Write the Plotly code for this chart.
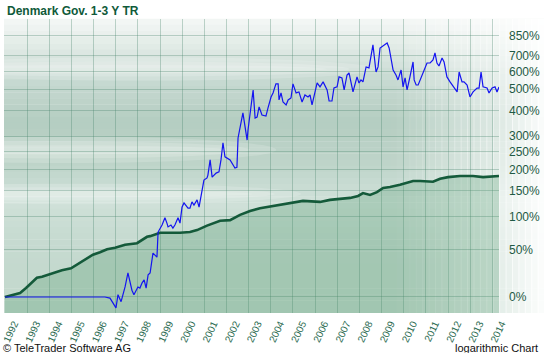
import plotly.graph_objects as go

title_text = "Denmark Gov. 1-3 Y TR"

blue_years = [1992.00, 1996.20, 1996.51, 1996.74, 1996.88, 1997.01, 1997.10, 1997.24, 1997.42, 1997.55,
              1997.73, 1997.82, 1998.00, 1998.09, 1998.19, 1998.28, 1998.37, 1998.46, 1998.55, 1998.68,
              1998.86, 1998.91, 1999.09, 1999.22, 1999.31, 1999.36, 1999.49, 1999.58, 1999.67, 1999.81,
              1999.90, 1999.99, 2000.08, 2000.26, 2000.35, 2000.44, 2000.53, 2000.67, 2000.76, 2000.89,
              2000.98, 2001.12, 2001.16, 2001.26, 2001.35, 2001.53, 2001.66, 2001.75, 2001.84, 2001.93,
              2002.16, 2002.38, 2002.47, 2002.52, 2002.74, 2002.93, 2002.97, 2003.20, 2003.29, 2003.38,
              2003.47, 2003.60, 2003.78, 2003.87, 2004.01, 2004.10, 2004.23, 2004.33, 2004.37, 2004.46,
              2004.55, 2004.69, 2004.78, 2004.91, 2005.00, 2005.14, 2005.27, 2005.41, 2005.54, 2005.68,
              2005.77, 2005.86, 2006.00, 2006.09, 2006.22, 2006.36, 2006.54, 2006.63, 2006.76, 2006.85,
              2006.99, 2007.08, 2007.21, 2007.31, 2007.44, 2007.53, 2007.71, 2007.89, 2007.98, 2008.07,
              2008.16, 2008.30, 2008.43, 2008.61, 2008.75, 2008.84, 2008.93, 2009.16, 2009.25, 2009.34,
              2009.52, 2009.65, 2009.74, 2009.88, 2009.97, 2010.06, 2010.15, 2010.28, 2010.42, 2010.47,
              2010.56, 2010.65, 2010.78, 2010.87, 2011.01, 2011.05, 2011.19, 2011.32, 2011.41, 2011.50,
              2011.59, 2011.73, 2011.82, 2011.95, 2012.09, 2012.23, 2012.41, 2012.50, 2012.63, 2012.72,
              2012.86, 2012.99, 2013.13, 2013.31, 2013.40, 2013.49, 2013.58, 2013.76, 2013.85, 2013.99,
              2014.12, 2014.21, 2014.30]
blue_pct = [0, 0, 0, -1, -5, -9, 2, -4, 9, 23,
            6, 2, 9, 8, 13, 16, 8, 21, 23, 46,
            41, 75, 86, 98, 89, 83, 86, 81, 86, 98,
            89, 117, 125, 115, 115, 127, 121, 131, 117, 145,
            174, 179, 186, 226, 181, 191, 194, 226, 278, 235,
            226, 204, 206, 294, 389, 287, 322, 496, 368, 372,
            415, 380, 376, 410, 461, 481, 528, 528, 447, 481,
            437, 424, 447, 456, 528, 481, 486, 437, 471, 461,
            471, 424, 496, 533, 512, 539, 496, 442, 442, 506,
            512, 567, 561, 496, 578, 590, 486, 567, 533, 550,
            539, 627, 621, 779, 596, 627, 756, 786, 794, 756,
            608, 578, 550, 608, 512, 561, 496, 567, 659, 550,
            522, 522, 561, 590, 627, 652, 652, 672, 720, 652,
            633, 685, 659, 567, 539, 512, 486, 596, 539, 539,
            522, 461, 486, 506, 506, 596, 512, 506, 481, 506,
            512, 486, 512]

bench_years = [1992.00, 1992.45, 1992.68, 1992.95, 1993.22, 1993.44, 1993.67, 1993.94, 1994.26, 1994.57,
               1994.98, 1995.39, 1995.75, 1995.97, 1996.29, 1996.61, 1996.97, 1997.42, 1997.96, 1998.41,
               1998.55, 1999.00, 1999.90, 2000.35, 2000.67, 2001.12, 2001.71, 2002.16, 2002.61, 2003.06,
               2003.51, 2004.10, 2004.87, 2005.45, 2006.22, 2006.67, 2007.12, 2007.58, 2007.94, 2008.16,
               2008.48, 2008.79, 2009.07, 2009.38, 2009.83, 2010.06, 2010.42, 2010.74, 2011.05, 2011.32,
               2011.64, 2012.00, 2012.54, 2013.13, 2013.58, 2014.03, 2014.30]
bench_pct = [0, 2, 3.5, 8, 13, 18, 19, 21, 24, 26,
             28, 34, 40, 44, 47, 51, 53, 57, 59, 68,
             69, 74, 74, 75, 78, 85, 93, 94, 103, 110,
             115, 119, 125, 129, 127, 131, 133, 135, 139, 145,
             141, 147, 156, 158, 163, 167, 172, 172, 170, 170,
             177, 181, 184, 184, 181, 184, 184]

tick_pct = [0, 50, 100, 150, 200, 250, 300, 400, 500, 600, 700, 850]
tick_labels = [f"{p}%" for p in tick_pct]
year_ticks = list(range(1992, 2015))
year_labels = [str(y) for y in year_ticks]

assert len(blue_years) == len(blue_pct)
assert len(bench_years) == len(bench_pct)


def to_ratio(pcts):
    return [1 + p / 100.0 for p in pcts]


def hex2rgb(h):
    h = h.lstrip('#')
    return tuple(int(h[i:i + 2], 16) for i in (0, 2, 4))


def interp_color(stops, t):
    for (t0, c0), (t1, c1) in zip(stops[:-1], stops[1:]):
        if t0 <= t <= t1:
            f = (t - t0) / (t1 - t0) if t1 > t0 else 0
            a, b = hex2rgb(c0), hex2rgb(c1)
            return "rgb(%d,%d,%d)" % tuple(round(a[i] + (b[i] - a[i]) * f) for i in range(3))
    return stops[-1][1]


fig = go.Figure()

fig.add_trace(go.Scatter(
    x=bench_years, y=to_ratio(bench_pct), mode="lines",
    line=dict(color="#145a3a", width=2.6),
    fill="tozeroy", fillcolor="rgba(70,145,100,0.26)",
    hoverinfo="skip", showlegend=False))
fig.add_trace(go.Scatter(
    x=blue_years, y=to_ratio(blue_pct), mode="lines",
    line=dict(color="#1414f0", width=1.2),
    hoverinfo="skip", showlegend=False))

# background decoration
shapes = []
stops = [(0.0, "#f4f7f6"), (0.07, "#e6eeea"), (0.2, "#c9dbd3"), (0.35, "#b4cdc1"),
         (0.5, "#bfd5ca"), (0.62, "#d0e1d9"), (0.75, "#c6dad0"), (1.0, "#c2d8cc")]
n = 48
xr = 1.091
for i in range(n):
    t0, t1 = i / n, (i + 1) / n
    shapes.append(dict(type="rect", xref="paper", yref="paper", x0=0, x1=xr,
                       y0=1 - t1, y1=1 - t0 + 0.001, line=dict(width=0),
                       fillcolor=interp_color(stops, (t0 + t1) / 2), layer="below"))
# soft white streaks (layered ellipses)
streaks = [(-0.3, 0.55, 0.555, 0.045), (-0.3, 0.6, 0.405, 0.035), (-0.2, 0.75, 0.83, 0.04)]
for (xa, xb, yc, hh) in streaks:
    for k, sc in enumerate([1.0, 0.65, 0.35]):
        shapes.append(dict(type="circle", xref="paper", yref="paper",
                           x0=xa, x1=xb - (1 - sc) * 0.15, y0=yc - hh * sc, y1=yc + hh * sc,
                           line=dict(width=0), fillcolor="white", opacity=0.16, layer="below"))
# right side fade to white
m = 24
xs0 = 0.78
for i in range(m):
    a = xs0 + (xr - xs0) * i / m
    b = xs0 + (xr - xs0) * (i + 1) / m
    mid = (a + b) / 2
    if mid <= 1.0:
        op = 0.55 * (mid - xs0) / (1.0 - xs0)
    else:
        op = 0.55 + 0.4 * (mid - 1.0) / (xr - 1.0)
    shapes.append(dict(type="rect", xref="paper", yref="paper", x0=a, x1=b + 0.002, y0=0, y1=1,
                       line=dict(width=0), fillcolor="white", opacity=op, layer="below"))

grid_col = "rgba(70,130,105,0.33)"

fig.update_layout(
    width=544, height=353,
    margin=dict(l=4, r=45, t=19, b=40, pad=0),
    paper_bgcolor="white", plot_bgcolor="rgba(0,0,0,0)",
    font=dict(family="Liberation Sans, Arial, sans-serif"),
    shapes=shapes,
    xaxis=dict(range=[1991.955, 2014.3], tickmode="array", tickvals=year_ticks, ticktext=year_labels,
               tickangle=-65, tickfont=dict(size=10, color="#2a6a50"), showgrid=True,
               gridcolor=grid_col, gridwidth=1, zeroline=False, showline=False, ticks="",
               ticklabelstandoff=2, ticklabelshift=9, ticklabeloverflow="allow", automargin=False),
    yaxis=dict(type="log", range=[-0.06, 1.041], side="right", tickmode="array",
               tickvals=to_ratio(tick_pct), ticktext=tick_labels,
               tickfont=dict(size=12, color="#1f5a45"), showgrid=True, gridcolor=grid_col,
               gridwidth=1, zeroline=False, showline=False, ticks="", ticklabelstandoff=9,
               automargin=False),
    annotations=[
        dict(text="<b>" + title_text + "</b>", xref="paper", yref="paper", x=0, y=1,
             xanchor="left", yanchor="middle", yshift=8, xshift=1, showarrow=False,
             font=dict(size=12, color="#0f5a3a")),
        dict(text="© TeleTrader Software AG", xref="paper", yref="paper", x=0, y=0,
             xanchor="left", yanchor="middle", yshift=-35, xshift=-3, showarrow=False,
             font=dict(size=11, color="#111111")),
        dict(text="logarithmic Chart", xref="paper", yref="paper", x=1.083, y=0,
             xanchor="right", yanchor="middle", yshift=-35, showarrow=False,
             font=dict(size=11, color="#111111")),
    ],
)

fig.write_html("out.html")
